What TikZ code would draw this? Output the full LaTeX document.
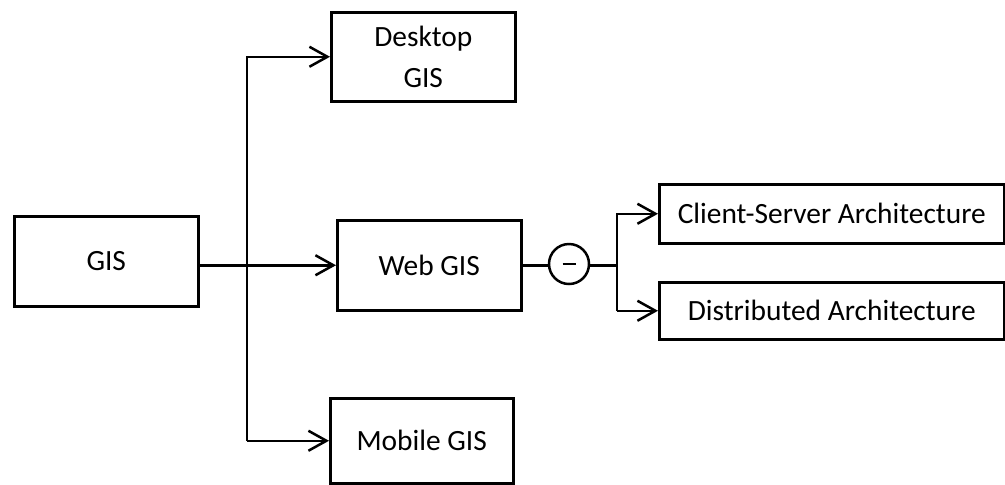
\documentclass[tikz,border=0pt]{standalone}
\usepackage{fontspec}
\setmainfont{Carlito}
\usetikzlibrary{arrows.meta,calc}

\begin{document}
\begin{tikzpicture}[x=0.5pt,y=-0.5pt,
  line width=1.25pt,
  box/.style={draw, rectangle, inner sep=0pt, font=\fontsize{14.7}{20.5}\selectfont, align=center},
  conn/.style={-{Straight Barb[length=9pt,width=10pt,line width=1.25pt]}},
  joiner/.style={draw, circle, minimum size=20pt, inner sep=0pt}
]
\useasboundingbox (0,0) rectangle (1005,484);

% boxes, given by their corners
\node[box, minimum width=92pt, minimum height=45pt, anchor=north west] (gis) at (13,215) {GIS};
\node[box, minimum width=92pt, minimum height=44.5pt, anchor=north west] (desk) at (330,11) {Desktop\\GIS};
\node[box, minimum width=92pt, minimum height=45pt, anchor=north west] (web) at (336,219) {Web GIS};
\node[box, minimum width=91.5pt, minimum height=42.5pt, anchor=north west] (mob) at (329,397) {Mobile GIS};
\node[box, minimum width=172.5pt, minimum height=29.5pt, anchor=north west] (cs) at (658,183) {Client-Server Architecture};
\node[box, minimum width=172.5pt, minimum height=28.5pt, anchor=north west] (dist) at (658,281) {Distributed Architecture};

% junction with minus sign
\node[joiner] (j) at (569,264) {};
\draw ($(j.center)+(-6.5,0)$) coordinate (ma) -- ($(j.center)+(6.5,0)$) coordinate (mb);

% trunk from GIS
\coordinate (t) at (247,0);
\draw[conn] (gis.east |- web.west) -- (web.west);
\draw[conn] (t |- mob.west) -- (t |- desk.west) -- (desk.west);
\draw[conn] (t |- mob.west) -- (mob.west);

% web GIS branches
\coordinate (b) at (617,0);
\draw (web.east) -- (web.east -| j.west);
\draw (web.east -| j.east) -- (web.east -| b);
\draw[conn] (b |- dist.west) -- (b |- cs.west) -- (cs.west);
\draw[conn] (b |- dist.west) -- (dist.west);
\end{tikzpicture}
\end{document}
